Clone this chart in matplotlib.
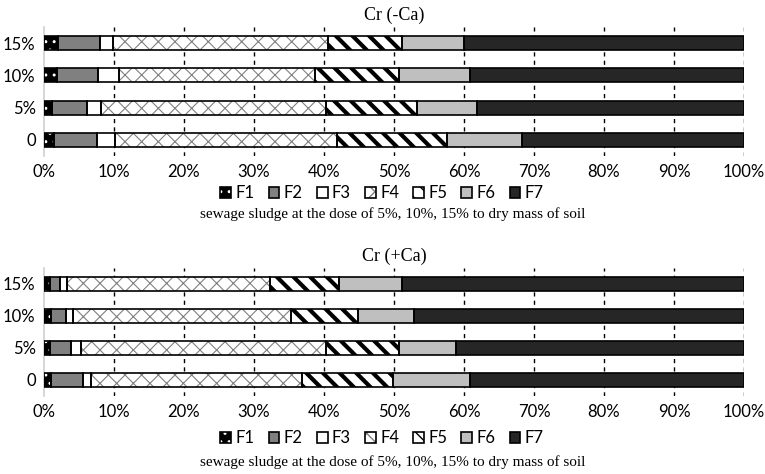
import numpy as np
import matplotlib
matplotlib.use('Agg')
import matplotlib.pyplot as plt
from matplotlib.patches import Patch
from matplotlib.legend_handler import HandlerTuple

# rows from bottom to top
rows = ['0', '5%', '10%', '15%']
fractions = ['F1', 'F2', 'F3', 'F4', 'F5', 'F6', 'F7']

# Cr (-Ca), % share of each fraction
minus_ca = {
    'F1': [1.4, 1.1, 1.9, 2.0],
    'F2': [6.1, 5.1, 5.8, 6.0],
    'F3': [2.7, 2.0, 3.0, 1.9],
    'F4': [31.7, 32.1, 28.0, 30.7],
    'F5': [15.7, 13.0, 12.0, 10.6],
    'F6': [10.7, 8.6, 10.1, 8.8],
    'F7': [31.7, 38.1, 39.2, 40.0],
}

# Cr (+Ca)
plus_ca = {
    'F1': [1.0, 0.9, 1.0, 0.9],
    'F2': [4.5, 3.0, 2.1, 1.4],
    'F3': [1.2, 1.4, 1.0, 1.0],
    'F4': [30.1, 35.0, 31.2, 29.0],
    'F5': [13.1, 10.4, 9.5, 9.8],
    'F6': [10.9, 8.1, 8.0, 9.0],
    'F7': [39.2, 41.2, 47.2, 48.9],
}

caption = 'sewage sludge at the dose of 5%, 10%, 15% to dry mass of soil'

# face colour, hatch, hatch colour, hatch line width
styles = {
    'F1': ('black', '..', 'white', 1.0),
    'F2': ('#808080', None, None, 1.0),
    'F3': ('white', None, None, 1.0),
    'F4': ('white', 'xx', '#808080', 0.8),
    'F5': ('white', '\\\\', 'black', 3.0),
    'F6': ('#bfbfbf', None, None, 1.0),
    'F7': ('#262626', None, None, 1.0),
}

W, H = 765, 474
fig = plt.figure(figsize=(W / 100, H / 100), dpi=100)

tick_font = 'Lato'
serif_font = 'Liberation Serif'


def seg(ax, y, w, left, f, h=0.44):
    fc, hatch, hc, hlw = styles[f]
    if hatch:
        with plt.rc_context({'hatch.linewidth': hlw, 'hatch.color': hc}):
            bars = ax.barh(y, w, left=left, height=h, color=fc, edgecolor=hc,
                           hatch=hatch, linewidth=0, zorder=3)
        for b in bars:
            try:
                b.set_hatch_linewidth(hlw)
            except AttributeError:
                pass
    else:
        ax.barh(y, w, left=left, height=h, color=fc, linewidth=0, zorder=3)
    ax.barh(y, w, left=left, height=h, fill=False, edgecolor='black',
            linewidth=1.2, zorder=4)


def panel(ax, data, title):
    y = np.arange(len(rows))
    left = np.zeros(len(rows))
    for f in fractions:
        vals = np.array(data[f])
        seg(ax, y, vals, left, f)
        left += vals
    ax.set_xlim(0, 100)
    ax.set_ylim(-0.5, 3.5)
    ax.set_yticks(y)
    ax.set_yticklabels(rows, fontsize=12, family=tick_font)
    ax.set_xticks(np.arange(0, 101, 10))
    ax.set_xticklabels([f'{v}%' for v in range(0, 101, 10)], fontsize=12, family=tick_font)
    ax.tick_params(length=0, pad=6)
    for s in ['top', 'right', 'bottom']:
        ax.spines[s].set_visible(False)
    ax.spines['left'].set_color('#d0d0d0')
    ax.spines['left'].set_linewidth(1.2)
    for v in range(10, 101, 10):
        ax.axvline(v, color='black', linestyle=(0, (3, 3)), linewidth=1, zorder=1)
    ax.set_title(title, fontsize=13, family=serif_font, pad=5)


ax1 = fig.add_axes([44 / W, (H - 156) / H, 700 / W, 129 / H])
panel(ax1, minus_ca, 'Cr (-Ca)')
ax2 = fig.add_axes([44 / W, (H - 396) / H, 700 / W, 128 / H])
panel(ax2, plus_ca, 'Cr (+Ca)')


def legend_handles():
    handles = []
    for f in fractions:
        fc, hatch, hc, hlw = styles[f]
        outline = Patch(fill=False, edgecolor='black', linewidth=1.2)
        if hatch:
            with plt.rc_context({'hatch.linewidth': min(hlw, 1.5), 'hatch.color': hc}):
                p = Patch(facecolor=fc, edgecolor=hc, hatch=hatch, linewidth=0)
            handles.append((p, outline))
        else:
            handles.append((Patch(facecolor=fc, linewidth=0), outline))
    return handles


for ly, cy in [(193, 214), (438, 462)]:
    fig.legend(legend_handles(), fractions, loc='center', ncol=7,
               bbox_to_anchor=(382 / W, 1 - ly / H), frameon=False,
               handler_map={tuple: HandlerTuple(ndivide=1, pad=0)},
               handlelength=0.65, handleheight=0.65, handletextpad=0.25,
               columnspacing=0.85, prop={'family': tick_font, 'size': 12})
    fig.text(393 / W, 1 - cy / H, caption, ha='center', va='center',
             fontsize=11, family=serif_font)

fig.savefig('out.png', dpi=100)
